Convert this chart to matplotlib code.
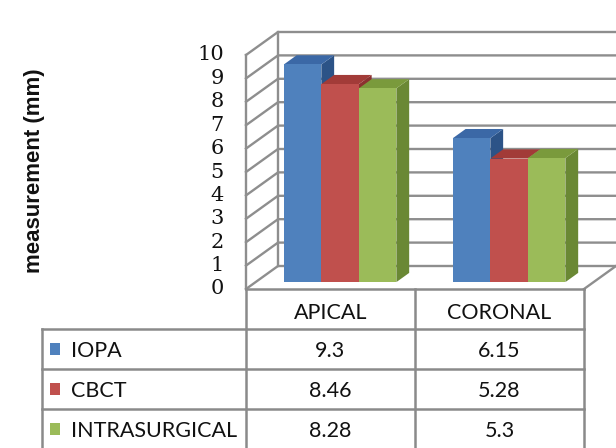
import matplotlib
matplotlib.use("Agg")
import matplotlib.pyplot as plt
from matplotlib.patches import Polygon, Rectangle

categories = ["APICAL", "CORONAL"]
series = ["IOPA", "CBCT", "INTRASURGICAL"]
iopa = [9.3, 6.15]
cbct = [8.46, 5.28]
intrasurgical = [8.28, 5.3]
value_ticks = [0, 1, 2, 3, 4, 5, 6, 7, 8, 9, 10]

values = [iopa, cbct, intrasurgical]
# front, top, side shades for each series
shades = [
    ("#4f81bd", "#3b68a6", "#2c5387"),
    ("#c0504d", "#a23b38", "#8c3230"),
    ("#9bbb59", "#7a9a3c", "#6a8834"),
]
grid_col = "#8e8e8e"

W, H = 616, 448
fig = plt.figure(figsize=(W / 100, H / 100), dpi=100)

# chart axes: x in category units, y in value units
x0_px, cat_px = 246, 169
y0_px, unit_px = 289, 23.4
ax = fig.add_axes([0, 0, 1, 1])
ax.set_xlim(-x0_px / cat_px, (W - x0_px) / cat_px)
ax.set_ylim(-(H - y0_px) / unit_px, y0_px / unit_px)
ax.axis("off")

ncat = len(categories)
vmax = value_ticks[-1]
Dx, Dv = 32 / cat_px, 23 / unit_px  # depth of the plot box


def poly(axis, pts, fc, ec="none", lw=0, z=1):
    axis.add_patch(Polygon(pts, closed=True, facecolor=fc, edgecolor=ec,
                           linewidth=lw, zorder=z, joinstyle="miter"))


# walls and floor
poly(ax, [(Dx, Dv), (ncat + Dx, Dv), (ncat + Dx, Dv + vmax), (Dx, Dv + vmax)], "white")
poly(ax, [(0, 0), (Dx, Dv), (Dx, Dv + vmax), (0, vmax)], "white")
poly(ax, [(0, 0), (ncat, 0), (ncat + Dx, Dv), (Dx, Dv)], "white")

for v in value_ticks:
    ax.plot([0, Dx, ncat + Dx], [v, Dv + v, Dv + v], color=grid_col, lw=1.7, zorder=2)
ax.plot([0, 0], [0, vmax], color=grid_col, lw=1.7, zorder=2)
ax.plot([Dx, Dx], [Dv, Dv + vmax], color=grid_col, lw=1.7, zorder=2)
ax.plot([ncat, ncat + Dx], [0, Dv], color=grid_col, lw=1.7, zorder=2)

for v in value_ticks:
    ax.text(-22 / cat_px, v, str(v), ha="right", va="center",
            family="DejaVu Serif", fontsize=15, color="#111111")

# bars
bw = 0.222
f0, f1 = 0.30, 0.70
for i in range(ncat):
    for j, vals in enumerate(values):
        v = vals[i]
        front, top, side = shades[j]
        xl = i + 0.5 - 1.5 * bw + j * bw
        xr = xl + bw
        a0x, a0y = f0 * Dx, f0 * Dv
        a1x, a1y = f1 * Dx, f1 * Dv
        poly(ax, [(xr + a0x, a0y), (xr + a1x, a1y), (xr + a1x, v + a1y), (xr + a0x, v + a0y)],
             side, z=3)
        poly(ax, [(xl + a0x, v + a0y), (xr + a0x, v + a0y), (xr + a1x, v + a1y), (xl + a1x, v + a1y)],
             top, z=3)
        poly(ax, [(xl + a0x, a0y), (xr + a0x, a0y), (xr + a0x, v + a0y), (xl + a0x, v + a0y)],
             front, z=3)

# data table under the chart: rows of 40 px
row_px = 40
tab = fig.add_axes([0, 1 - (y0_px + 4 * row_px) / H, 1, 4 * row_px / H])
tab.set_xlim(ax.get_xlim())
tab.set_ylim(4, 0)
tab.axis("off")
tab.patch.set_alpha(0)

left = (42 - x0_px) / cat_px
tcol = "#8a8a8a"
tab.plot([0, ncat], [0, 0], color=tcol, lw=1.8, clip_on=False)
for r in range(1, 5):
    tab.plot([left, ncat], [r, r], color=tcol, lw=1.8, clip_on=False)
for c in range(ncat + 1):
    tab.plot([c, c], [0, 4], color=tcol, lw=1.8, clip_on=False)
tab.plot([left, left], [1, 4], color=tcol, lw=1.8, clip_on=False)

tfont = dict(family="Lato", fontsize=15.5, color="#111111")
for i, cat in enumerate(categories):
    tab.text(i + 0.5, 0.6, cat, ha="center", va="center", **tfont)
sq_w, sq_h = 10 / cat_px, 12 / row_px
for j, name in enumerate(series):
    r = j + 1
    tab.add_patch(Rectangle(((50 - x0_px) / cat_px, r + 0.5 - sq_h / 2), sq_w, sq_h,
                            facecolor=shades[j][0], edgecolor="none"))
    tab.text((71 - x0_px) / cat_px, r + 0.55, name, ha="left", va="center", **tfont)
    for i in range(ncat):
        tab.text(i + 0.5, r + 0.55, f"{values[j][i]:g}", ha="center", va="center", **tfont)

fig.text(35 / W, 1 - 171 / H, "measurement (mm)", rotation=90, ha="center", va="center",
         family="Liberation Sans", fontweight="bold", fontsize=16, color="#111111")

fig.savefig("out.png", dpi=100)
